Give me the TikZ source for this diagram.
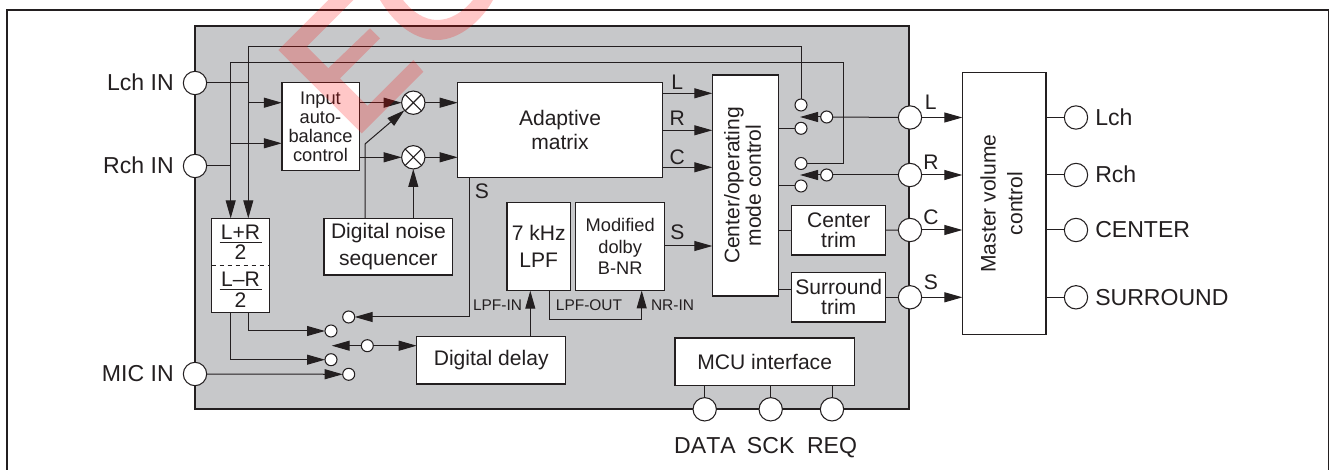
\documentclass[tikz,border=0pt]{standalone}
\usepackage{fontspec}
\usepackage{tikz}
\usetikzlibrary{arrows.meta}
\setmainfont[Kerning=Off]{Liberation Sans}
\definecolor{ink}{HTML}{231F20}
\definecolor{chipgray}{HTML}{C7C8CA}
\newcommand{\lblfont}{\fontsize{17.3}{20}\selectfont}
\newcommand{\boxfont}{\fontsize{15.8}{18}\selectfont}
\newcommand{\inpfont}{\fontsize{13.7}{14.3}\selectfont}
\newcommand{\pinfont}{\fontsize{11.6}{14}\selectfont}

\begin{document}
\begin{tikzpicture}[x=0.75pt,y=-0.75pt,color=ink,text=ink]
    \tikzstyle{block}=[rectangle,draw=ink,fill=white,line width=1pt,inner sep=0pt,outer sep=0pt,align=center,font=\boxfont]
    \tikzstyle{pin}=[circle,draw=ink,fill=white,line width=0.8pt,minimum size=17.5pt,inner sep=0pt,outer sep=0pt]
    \tikzstyle{contact}=[circle,draw=ink,fill=white,line width=0.8pt,minimum size=9pt,inner sep=0pt,outer sep=0pt]
    \tikzstyle{mixer}=[pin,path picture={\draw[line width=0.8pt] (path picture bounding box.south west) -- (path picture bounding box.north east) (path picture bounding box.north west) -- (path picture bounding box.south east);}]
    \tikzstyle{wire}=[draw=ink,line width=0.75pt]
    \tikzstyle{flow}=[wire,-{Triangle[length=13.5pt,width=7.5pt]}]
    \useasboundingbox (0,0) rectangle (1329,470);

    \draw[line width=1.6pt] (7,470) -- (7,10) -- (1329,10) -- (1329,470);
    \node[rectangle,draw=ink,fill=chipgray,line width=1pt,minimum width=535.5pt,minimum height=287.25pt,inner sep=0pt] (chip) at (552,217.5) {};

    % blocks
    \node[block,font=\inpfont,minimum width=58pt,minimum height=66pt] (inbal) at (320.5,126.7) {Input\\auto-\\balance\\control};
    \node[block,minimum width=153.5pt,minimum height=71pt] (adaptive) at (560,130) {Adaptive\\matrix};
    \node[block,minimum width=96.5pt,minimum height=42.5pt] (noise) at (388.4,246.7) {Digital noise\\[2pt]sequencer};
    \node[block,minimum width=43.2pt,minimum height=70.5pt] (sumdiff) at (240.5,265.3) {};
    \node[block,minimum width=47.5pt,minimum height=66pt] (lpf) at (538.7,246.5) {7 kHz\\[2pt]LPF};
    \node[block,font=\inpfont,minimum width=66.8pt,minimum height=66pt] (dolby) at (620.2,246.5) {Modified\\[2pt]dolby\\[2pt]B-NR};
    \node[block,minimum width=49.5pt,minimum height=165.75pt] (centermode) at (745.3,185.5) {\rotatebox{90}{\begin{tabular}{@{}c@{}}Center/operating\\[-2pt]mode control\end{tabular}}};
    \node[block,minimum width=70.5pt,minimum height=37pt] (ctrim) at (838.7,230.3) {Center\\[-3pt]trim};
    \node[block,minimum width=70.5pt,minimum height=37pt] (strim) at (838.7,297.3) {Surround\\[-3pt]trim};
    \node[block,minimum width=111.75pt,minimum height=35.5pt] (delay) at (491.2,360.3) {Digital delay};
    \node[block,minimum width=134.5pt,minimum height=35.5pt] (mcu) at (764.7,361.6) {MCU interface};
    \node[block,minimum width=62.75pt,minimum height=196.25pt] (master) at (1004.2,203.5) {\rotatebox{90}{\begin{tabular}{@{}c@{}}Master volume\\[2pt]control\end{tabular}}};

    % L+R and L-R inside their box
    \draw[wire,dashed] (sumdiff.west |- 0,265.7) -- (sumdiff.east |- 0,265.7);
    \foreach \name/\txt/\ty in {sum/L+R/239.3, diff/L--R/286.7}
        \node[anchor=base,inner sep=0pt,font=\boxfont] (\name) at (240.5,\ty) {\txt};
    \foreach \name/\ty in {sumtwo/260, difftwo/307.7}
        \node[anchor=base,inner sep=0pt,font=\boxfont] (\name) at (240.5,\ty) {2};
    \foreach \y in {242.7, 290}
        \draw[wire] (219.5,\y) -- (261.5,\y);

    % pins
    \foreach \name/\x/\y in {lchin/195/83, rchin/195/166, micin/195/374, portl/910/117.5, portr/910/175, portc/910/230, ports/910/297.3, outl/1076/117.5, outr/1076/175, outc/1076/230, outs/1076/297.3, data/704.7/409.3, sck/770.7/409.3, req/832/409.3}
        \node[pin] (\name) at (\x,\y) {};
    \foreach \name/\y in {mixu/102.7, mixd/157.3}
        \node[mixer] (\name) at (413.3,\y) {};
    \foreach \name/\x/\y in {swin/348.7/317, swsum/331/331, swdiff/331/359.7, swmic/348.7/374.3, swdelay/367.3/345.7, swla/801/105, swlb/801/128.3, swlc/826.7/117, swra/801/163.5, swrb/801/186, swrc/826.7/175}
        \node[contact] (\name) at (\x,\y) {};

    % free ends and corners
    \coordinate (busr) at (230.7,62.3);
    \coordinate (busl) at (248.3,46.7);
    \coordinate (busle) at (801,46.7);
    \coordinate (busre) at (843,62.3);
    \coordinate (noisebend) at (365,144);
    \coordinate (sdrop) at (469.3,317);
    \coordinate (outa) at (549,319.3);
    \coordinate (outb) at (641.7,319.3);
    \coordinate (lpfin) at (530.3,290.7);
    \coordinate (tipdelay) at (331.7,345.7);
    \coordinate (tipl) at (800,117);
    \coordinate (tipr) at (800,175);

    % inputs and the two buses
    \draw[wire] (lchin) -- (busl |- lchin);
    \draw[wire] (rchin) -- (busr |- rchin);
    \draw[flow] (busl) -- (busl |- sumdiff.north);
    \draw[flow] (busr) -- (busr |- sumdiff.north);
    \draw[wire] (busl) -- (busle) -- (swla);
    \draw[wire] (busr) -- (busre) |- (swra);
    \draw[flow] (busl |- mixu) -- (inbal.west |- mixu);
    \draw[flow] (busr |- 0,143.3) -- (inbal.west |- 0,143.3);

    \draw[flow] (inbal.east |- mixu) -- (mixu);
    \draw[flow] (inbal.east |- mixd) -- (mixd);
    \draw[flow] (mixu) -- (adaptive.west |- mixu);
    \draw[flow] (mixd) -- (adaptive.west |- mixd);
    \draw[flow] (noise.north -| mixd) -- (mixd);
    \draw[flow] (noise.north -| noisebend) -- (noisebend) -- (mixu);

    % adaptive matrix to mode control
    \foreach \y in {93.3, 130.3, 167.3}
        \draw[flow] (adaptive.east |- 0,\y) -- (centermode.west |- 0,\y);
    \draw[flow] (dolby.east |- 0,246) -- (centermode.west |- 0,246);
    \draw[wire] (centermode.east |- swlb) -- (swlb);
    \draw[wire] (centermode.east |- swrb) -- (swrb);
    \draw[wire] (centermode.east |- ctrim) -- (ctrim.west);
    \draw[wire] (centermode.east |- 0,290) -- (strim.west |- 0,290);

    % selector switches
    \draw[flow] (swlc) -- (tipl);
    \draw[flow] (swrc) -- (tipr);
    \draw[wire] (swlc) -- (portl);
    \draw[wire] (swrc) -- (portr);
    \draw[wire] (ctrim) -- (portc);
    \draw[wire] (strim) -- (ports);
    \draw[wire] (adaptive.south -| sdrop) -- (sdrop);
    \draw[flow] (sdrop) -- (swin);
    \draw[flow] (sumdiff.south -| busl) |- (swsum);
    \draw[flow] (sumdiff.south -| busr) |- (swdiff);
    \draw[flow] (micin) -- (swmic);
    \draw[flow] (swdelay) -- (tipdelay);
    \draw[flow] (swdelay) -- (delay.west |- swdelay);

    \draw[flow] (delay.north -| lpfin) -- (lpfin);
    \draw[wire] (outa |- lpf.south) -- (outa) -- (outb);
    \draw[flow] (outb) -- (outb |- dolby.south);

    % to and from master volume
    \foreach \port/\out in {portl/outl, portr/outr, portc/outc, ports/outs} {
        \draw[flow] (\port) -- (master.west |- \port);
        \draw[wire] (master.east |- \out) -- (\out);
    }
    \foreach \pin in {data, sck, req}
        \draw[wire] (\pin) -- (mcu.south -| \pin);

    % labels
    \foreach \name/\y/\txt in {lbllch/90.7/Lch IN, lblrch/173.3/Rch IN, lblmic/382/MIC IN}
        \node[anchor=base east,inner sep=0pt,font=\lblfont] (\name) at (174,\y) {\txt};
    \foreach \name/\y/\txt in {lbloutl/126/Lch, lbloutr/183/Rch, lbloutc/237.7/CENTER, lblouts/305.3/SURROUND}
        \node[anchor=base west,inner sep=0pt,font=\lblfont] (\name) at (1095,\y) {\txt};
    \foreach \name/\x/\txt in {lbldata/705/DATA, lblsck/770.7/SCK, lblreq/832/REQ}
        \node[anchor=base,inner sep=0pt,font=\lblfont] (\name) at (\x,454) {\txt};
    \foreach \name/\x/\y/\txt in {sigl/677.3/90/L, sigr/677.3/126/R, sigc/677.3/165/C, sigs/677.3/240/S, sigsum/482/199/S, portlbll/930.7/109.3/L, portlblr/931/169.3/R, portlblc/931/225/C, portlbls/931/290/S}
        \node[anchor=base,inner sep=0pt,font=\boxfont] (\name) at (\x,\y) {\txt};
    \foreach \name/\x/\txt in {lbllpfin/497.5/LPF-IN, lbllpfout/589/LPF-OUT, lblnrin/672.5/NR-IN}
        \node[anchor=base,inner sep=0pt,font=\pinfont] (\name) at (\x,311) {\txt};

    % faint red stamp
    \fill[red,opacity=.22] (278.3,50) -- (361.7,133.3) -- (423.3,71.7) -- (413.3,60) -- (367.5,105.8) -- (340,78.3) -- (380,38.3) -- (370,28.3) -- (328.3,68.3) -- (306.7,46.7) -- (353.3,0) -- (328.3,0) -- cycle;
    \fill[red,opacity=.22] (380,0) .. controls (395,25) and (415,40) .. (437,40) .. controls (460,40) and (482,20) .. (493,0) -- (473,0) .. controls (462,13) and (450,20) .. (437,20) .. controls (425,20) and (412,12) .. (403,0) -- cycle;
\end{tikzpicture}
\end{document}
